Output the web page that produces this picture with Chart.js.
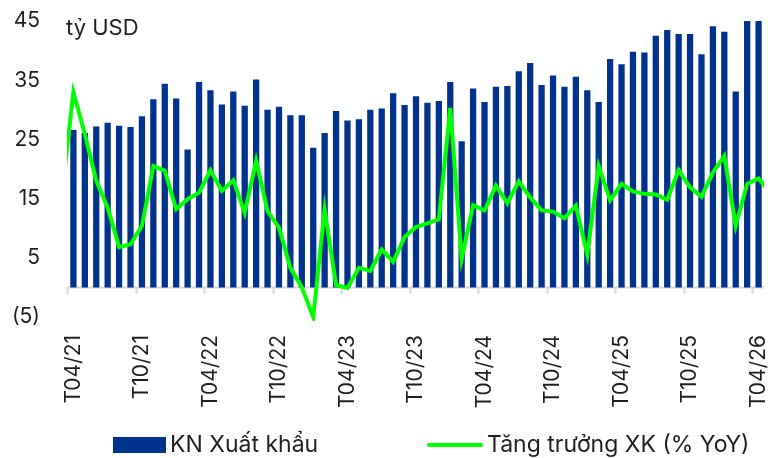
<!DOCTYPE html>
<html lang="vi">
<head>
<meta charset="utf-8">
<title>KN Xuất khẩu</title>
<script src="https://cdn.jsdelivr.net/npm/chart.js@4.4.1/dist/chart.umd.min.js"></script>
<style>
    html, body { margin: 0; padding: 0; background: #ffffff; }
    .chart-wrap { position: relative; width: 770px; height: 458px; }
</style>
</head>
<body>
<div class="chart-wrap"><canvas id="exportChart"></canvas></div>
<script>
// Months; the first and last only carry the growth line, which is cut off at the plot edge
var months = [
    'T03/21', 'T04/21', 'T05/21', 'T06/21', 'T07/21', 'T08/21', 'T09/21', 'T10/21', 'T11/21', 'T12/21',
    'T01/22', 'T02/22', 'T03/22', 'T04/22', 'T05/22', 'T06/22', 'T07/22', 'T08/22', 'T09/22', 'T10/22', 'T11/22', 'T12/22',
    'T01/23', 'T02/23', 'T03/23', 'T04/23', 'T05/23', 'T06/23', 'T07/23', 'T08/23', 'T09/23', 'T10/23', 'T11/23', 'T12/23',
    'T01/24', 'T02/24', 'T03/24', 'T04/24', 'T05/24', 'T06/24', 'T07/24', 'T08/24', 'T09/24', 'T10/24', 'T11/24', 'T12/24',
    'T01/25', 'T02/25', 'T03/25', 'T04/25', 'T05/25', 'T06/25', 'T07/25', 'T08/25', 'T09/25', 'T10/25', 'T11/25', 'T12/25',
    'T01/26', 'T02/26', 'T03/26', 'T04/26', 'T05/26'
];

// Export value, billion USD
var exportValue = [
    null, 26.6, 26.1, 27.2, 27.8, 27.3, 27.1, 28.9, 31.8, 34.4,
    31.9, 23.3, 34.7, 33.3, 30.9, 33.1, 30.7, 35.1, 30.0, 30.5, 29.1, 29.1,
    23.6, 26.1, 29.8, 28.2, 28.4, 30.0, 30.2, 32.8, 30.8, 32.3, 31.2, 31.5,
    34.7, 24.7, 33.6, 31.3, 33.9, 34.0, 36.5, 37.9, 34.2, 35.8, 33.9, 35.6,
    33.3, 31.3, 38.6, 37.7, 39.8, 39.7, 42.5, 43.5, 42.8, 42.8, 39.4, 44.1,
    43.2, 33.1, 46.5, 47.0, null
];

// Export growth, % YoY
var exportGrowth = [
    16.0, 33.0, 25.9, 18.0, 13.5, 6.8, 7.3, 10.4, 20.5, 19.7,
    13.2, 14.9, 16.0, 19.8, 16.3, 18.1, 12.6, 21.4, 12.9, 10.1, 3.3, 0.0,
    -5.0, 13.2, 0.4, -0.1, 3.3, 2.8, 6.4, 4.3, 8.5, 10.2, 10.8, 11.5,
    30.3, 4.8, 13.9, 13.0, 17.2, 14.2, 17.9, 15.2, 13.0, 12.8, 11.7, 13.8,
    5.5, 20.5, 14.7, 17.5, 16.2, 15.8, 15.7, 14.8, 19.8, 16.9, 15.3, 19.4,
    22.2, 10.4, 17.5, 18.4, 16.0
];

var yTicks = [-5, 5, 15, 25, 35, 45];
var unitLabel = 'tỷ USD';

(function () {
    'use strict';

    var NAVY = '#00338d';
    var GREEN = '#00ff00';
    var TEXT = '#1f1f1f';
    var AXIS = '#d9d9d9';
    var FONT = 'Inter';
    // the outer half of the first and last month is not part of the plot
    var EDGE_LEFT = 5;
    var EDGE_RIGHT = 6;

    Chart.defaults.font.family = FONT;
    Chart.defaults.color = TEXT;

    function isMajorMonth(label) {
        return /^T(04|10)\//.test(label || '');
    }

    // zero line under the bars
    var zeroLine = {
        id: 'zeroLine',
        beforeDatasetsDraw: function (chart) {
            var area = chart.chartArea;
            var y0 = chart.scales.y.getPixelForValue(0);
            var ctx = chart.ctx;
            ctx.save();
            ctx.strokeStyle = AXIS;
            ctx.lineWidth = 2;
            ctx.beginPath();
            ctx.moveTo(area.left + EDGE_LEFT, y0);
            ctx.lineTo(area.right - EDGE_RIGHT, y0);
            ctx.stroke();
            ctx.restore();
        }
    };

    // unit label in the top left corner and the legend row at the bottom
    var overlayText = {
        id: 'overlayText',
        afterDraw: function (chart) {
            var ctx = chart.ctx;
            var sets = chart.data.datasets;
            ctx.save();
            ctx.fillStyle = TEXT;
            ctx.textBaseline = 'alphabetic';
            ctx.font = '22px ' + FONT;
            ctx.fillText(unitLabel, chart.chartArea.left + EDGE_LEFT - 1, 35);

            ctx.font = '23px ' + FONT;
            ctx.textBaseline = 'middle';
            ctx.fillStyle = sets[0].backgroundColor;
            ctx.fillRect(113, 437, 53, 16);
            ctx.fillStyle = TEXT;
            ctx.fillText(sets[0].label, 170, 445);

            ctx.strokeStyle = sets[1].borderColor;
            ctx.lineWidth = 4;
            ctx.lineCap = 'round';
            ctx.beginPath();
            ctx.moveTo(429, 445);
            ctx.lineTo(481, 445);
            ctx.stroke();
            ctx.fillText(sets[1].label, 487, 445);
            ctx.restore();
        }
    };

    new Chart(document.getElementById('exportChart'), {
        type: 'bar',
        data: {
            labels: months,
            datasets: [{
                type: 'bar',
                label: 'KN Xuất khẩu',
                data: exportValue,
                backgroundColor: NAVY,
                borderWidth: 0,
                barPercentage: 0.55,
                categoryPercentage: 1,
                order: 1
            }, {
                type: 'line',
                label: 'Tăng trưởng XK (% YoY)',
                data: exportGrowth,
                borderColor: GREEN,
                backgroundColor: GREEN,
                borderWidth: 4,
                pointRadius: 0,
                tension: 0,
                clip: { left: -EDGE_LEFT, right: -EDGE_RIGHT, top: 4, bottom: 4 },
                order: 0
            }]
        },
        options: {
            responsive: true,
            maintainAspectRatio: false,
            devicePixelRatio: 1,
            animation: false,
            layout: {
                padding: { top: 21, right: 0, bottom: 41, left: 0 }
            },
            plugins: {
                legend: { display: false },
                title: { display: false },
                tooltip: { enabled: false }
            },
            scales: {
                x: {
                    type: 'category',
                    position: 'bottom',
                    offset: false,
                    grid: { display: false, drawTicks: false },
                    border: { display: false },
                    ticks: {
                        autoSkip: false,
                        minRotation: 90,
                        maxRotation: 90,
                        padding: 18,
                        font: { size: 21 },
                        color: TEXT,
                        callback: function (value) {
                            var label = months[value];
                            return isMajorMonth(label) ? label : '';
                        }
                    },
                    afterFit: function (scale) {
                        scale.height = 100;
                        scale.paddingLeft = 0;
                        scale.paddingRight = 0;
                    }
                },
                // half-year tick marks hanging from the zero line
                xZero: {
                    type: 'category',
                    position: { y: 0 },
                    offset: false,
                    grid: {
                        display: true,
                        offset: true,
                        drawOnChartArea: false,
                        drawTicks: true,
                        tickLength: 7,
                        tickWidth: 2,
                        tickColor: function (c) {
                            return c.tick && isMajorMonth(months[c.tick.value]) ? AXIS : 'rgba(0,0,0,0)';
                        }
                    },
                    border: { display: false },
                    ticks: { display: false, autoSkip: false },
                    afterFit: function (scale) {
                        scale.height = 0;
                        scale.paddingLeft = 0;
                        scale.paddingRight = 0;
                    }
                },
                y: {
                    min: -5,
                    max: 45,
                    grid: { display: false, drawTicks: false },
                    border: { display: false },
                    afterBuildTicks: function (scale) {
                        scale.ticks = yTicks.map(function (v) { return { value: v }; });
                    },
                    ticks: {
                        padding: 22,
                        font: { size: 21 },
                        color: TEXT,
                        callback: function (value) {
                            return value < 0 ? '(' + Math.abs(value) + ')' : String(value);
                        }
                    },
                    afterFit: function (scale) {
                        scale.width = 62;
                        scale.paddingTop = 0;
                        scale.paddingBottom = 0;
                    }
                }
            }
        },
        plugins: [zeroLine, overlayText]
    });
})();
</script>
</body>
</html>
